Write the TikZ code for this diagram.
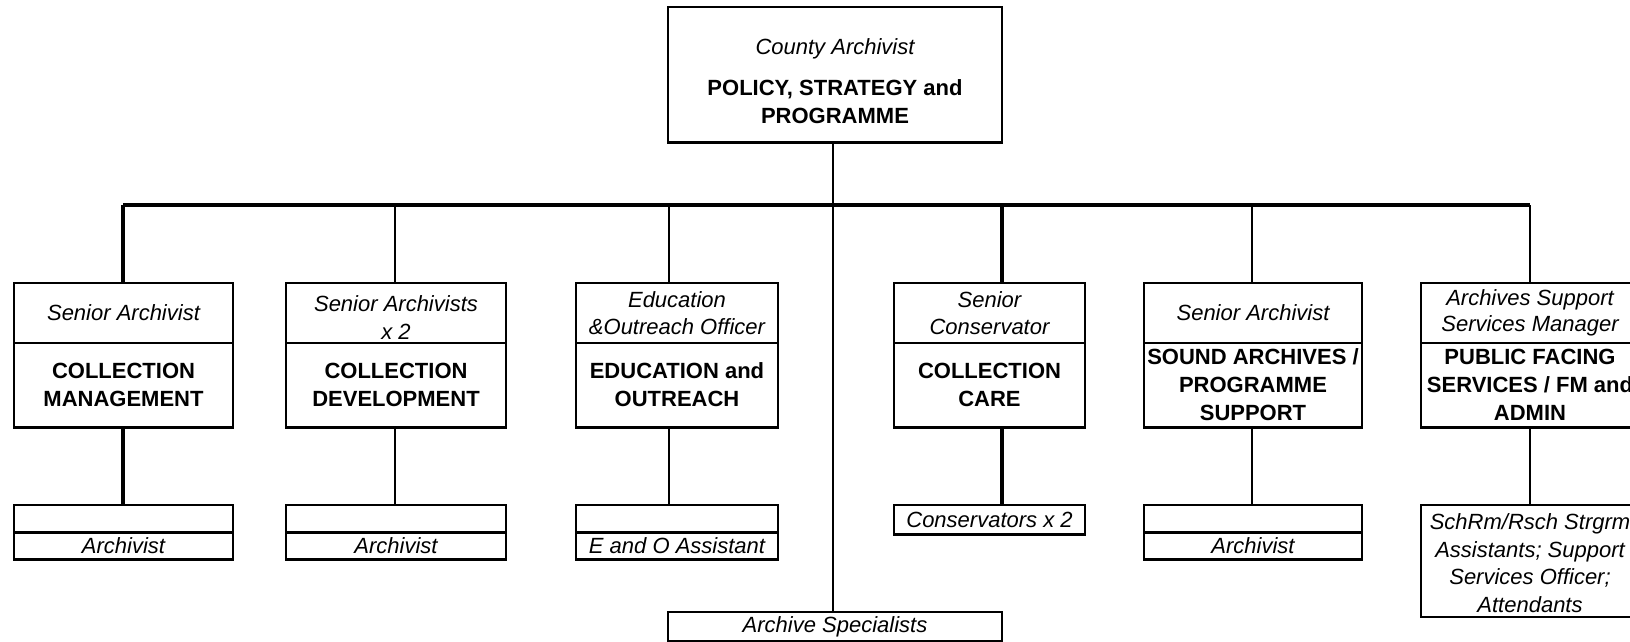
\documentclass[tikz,border=0pt]{standalone}
\usepackage{fontspec}
\setmainfont{Liberation Sans}
\begin{document}
\begin{tikzpicture}[x=1pt,y=-1pt,
  box/.style={draw, line width=1.8pt, inner sep=0pt, align=center},
  ttl/.style={box, font=\fontsize{22}{26.5}\selectfont\itshape, minimum height=60pt},
  fnc/.style={box, font=\fontsize{22}{28}\selectfont\bfseries, minimum height=84pt},
  blank/.style={box, minimum height=28pt},
  sub/.style={box, font=\fontsize{22}{27.5}\selectfont\itshape, minimum height=26pt},
  thinline/.style={line width=1.6pt},
  heavy/.style={line width=3.2pt},
  edge/.style={line width=2.6pt},
  lbl/.style={inner sep=0pt, align=center}
]
\useasboundingbox (0,0) rectangle (1630,642);
\clip (0,0) rectangle (1630,642);

% top box
\node[box, minimum width=334pt, minimum height=135pt] (top) at (835,74.5) {};
\node[lbl, font=\fontsize{22}{26.5}\selectfont\itshape] (topt) at (835,49) {County Archivist};
\node[lbl, font=\fontsize{22}{28}\selectfont\bfseries] (topf) at (835,102) {POLICY, STRATEGY and\\PROGRAMME};
\draw[edge] (top.south west) -- (top.south east);

% level 2: title cells
\node[ttl, minimum width=219pt] (t1) at (123.5,313) {Senior Archivist};
\node[ttl, minimum width=220pt] (t2) at (396,313) {};
\node[lbl, font=\fontsize{22}{28}\selectfont\itshape] (t2t) at (396,318) {Senior Archivists\\x 2};
\node[ttl, minimum width=202pt] (t3) at (677,313) {Education\\\&Outreach Officer};
\node[ttl, minimum width=191pt] (t4) at (989.5,313) {Senior\\Conservator};
\node[ttl, minimum width=218pt] (t5) at (1253,313) {Senior Archivist};
\node[ttl, minimum width=218pt] (t6) at (1530,313) {Archives Support\\Services Manager};

% level 2: function cells
\node[fnc, minimum width=219pt] (f1) at (123.5,385) {COLLECTION\\MANAGEMENT};
\node[fnc, minimum width=220pt] (f2) at (396,385) {COLLECTION\\DEVELOPMENT};
\node[fnc, minimum width=202pt] (f3) at (677,385) {EDUCATION and\\OUTREACH};
\node[fnc, minimum width=191pt] (f4) at (989.5,385) {COLLECTION\\CARE};
\node[fnc, minimum width=218pt] (f5) at (1253,385) {SOUND ARCHIVES /\\PROGRAMME\\SUPPORT};
\node[fnc, minimum width=218pt] (f6) at (1530,385) {PUBLIC FACING\\SERVICES / FM and\\ADMIN};
\foreach \n in {f1,f2,f3,f4,f5,f6} \draw[edge] (\n.south west) -- (\n.south east);

% level 3
\node[blank, minimum width=219pt] (b1) at (123.5,519) {};
\node[sub, minimum width=219pt] (s1) at (123.5,546) {Archivist};
\node[blank, minimum width=220pt] (b2) at (396,519) {};
\node[sub, minimum width=220pt] (s2) at (396,546) {Archivist};
\node[blank, minimum width=202pt] (b3) at (677,519) {};
\node[sub, minimum width=202pt] (s3) at (677,546) {E and O Assistant};
\node[sub, minimum width=191pt, minimum height=29pt] (s4) at (989.5,519.5) {Conservators x 2};
\node[blank, minimum width=218pt] (b5) at (1253,519) {};
\node[sub, minimum width=218pt] (s5) at (1253,546) {Archivist};
\node[box, minimum width=218pt, minimum height=112pt] (s6) at (1530,561) {};
\node[lbl, font=\fontsize{22}{27.5}\selectfont\itshape] (s6t) at (1530,563) {SchRm/Rsch Strgrm\\Assistants; Support\\Services Officer;\\Attendants};
\foreach \n in {s1,s2,s3,s5} {
  \draw[edge] (\n.north west) -- (\n.north east);
  \draw[edge] (\n.south west) -- (\n.south east);
}
\draw[edge] (s4.south west) -- (s4.south east);

% archive specialists
\node[sub, minimum width=334pt, minimum height=29pt] (arch) at (835,626.5) {Archive Specialists};
\draw[edge] (arch.south west) -- (arch.south east);

% connectors
\coordinate (d1) at (123,205);
\coordinate (d2) at (395,205);
\coordinate (d3) at (669,205);
\coordinate (c0) at (833,205);
\coordinate (d4) at (1002,205);
\coordinate (d5) at (1252,205);
\coordinate (d6) at (1530,205);

\draw[heavy] (d1) -- (d6);
\draw[thinline] (top.south -| c0) -- (arch.north -| c0);
\draw[heavy] (d1) -- (d1 |- t1.north);
\draw[thinline] (d2) -- (d2 |- t2.north);
\draw[thinline] (d3) -- (d3 |- t3.north);
\draw[heavy] (d4) -- (d4 |- t4.north);
\draw[thinline] (d5) -- (d5 |- t5.north);
\draw[thinline] (d6) -- (d6 |- t6.north);

\draw[heavy] (f1.south -| d1) -- (b1.north -| d1);
\draw[thinline] (f2.south -| d2) -- (b2.north -| d2);
\draw[thinline] (f3.south -| d3) -- (b3.north -| d3);
\draw[heavy] (f4.south -| d4) -- (s4.north -| d4);
\draw[thinline] (f5.south -| d5) -- (b5.north -| d5);
\draw[thinline] (f6.south -| d6) -- (s6.north -| d6);
\end{tikzpicture}
\end{document}
